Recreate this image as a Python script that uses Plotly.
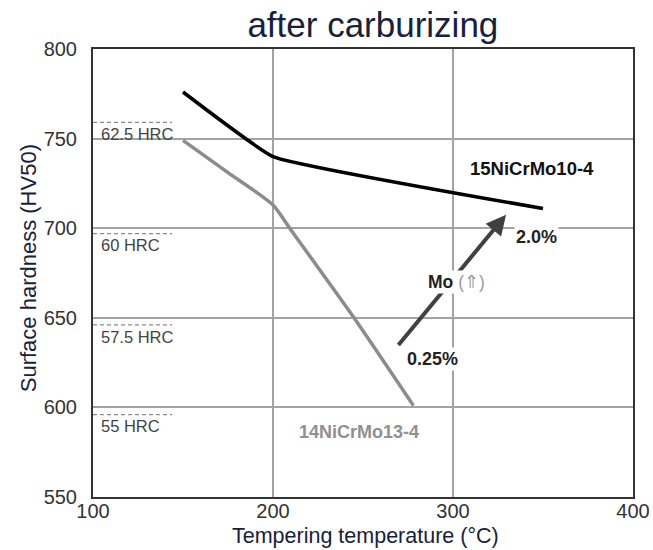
import plotly.graph_objects as go

# Surface hardness vs. tempering temperature after carburizing
temp_15 = [150, 200, 350]
hv_15 = [776, 740, 711]

temp_14 = [150, 175, 200, 210, 245, 278]
hv_14 = [749, 731, 713, 699, 650, 601]

# Rockwell reference levels (HRC) and equivalent HV50
hrc_labels = ["62.5 HRC", "60 HRC", "57.5 HRC", "55 HRC"]
hrc_hv = [759, 697, 646, 596]
hrc_x = [100, 144]

# Mo content arrow (tail -> head)
mo_tail = (269, 634)
mo_head = (329.5, 707.5)

x_ticks = [100, 200, 300, 400]
y_ticks = [550, 600, 650, 700, 750, 800]

FONT = "Liberation Sans, Arial, sans-serif"
NAVY = "#17223a"

fig = go.Figure()

for hv in hrc_hv:
    fig.add_trace(go.Scatter(
        x=hrc_x, y=[hv, hv], mode="lines",
        line=dict(color="#8a8a8a", width=1.2, dash="4px,3px"),
        hoverinfo="skip", showlegend=False, cliponaxis=False))

fig.add_trace(go.Scatter(
    x=temp_14, y=hv_14, mode="lines",
    line=dict(color="#8c8c8c", width=3.5, shape="spline", smoothing=0.6),
    showlegend=False))

fig.add_trace(go.Scatter(
    x=temp_15, y=hv_15, mode="lines",
    line=dict(color="#000000", width=3.5, shape="spline", smoothing=0.3),
    showlegend=False))

annotations = []
for lab, hv in zip(hrc_labels, hrc_hv):
    annotations.append(dict(
        x=103.5, y=hv - 6.5, text=lab, showarrow=False,
        xanchor="left", yanchor="middle",
        font=dict(family=FONT, size=16.5, color="#444444")))

annotations += [
    dict(x=mo_head[0], y=mo_head[1], ax=mo_tail[0], ay=mo_tail[1],
         axref="x", ayref="y", xref="x", yref="y", text="",
         showarrow=True, arrowhead=2, arrowsize=1.0, arrowwidth=4,
         arrowcolor="#404040"),
    dict(x=302, y=670, text="<b>Mo</b> <span style='color:#9a9a9a'>(⇑)</span>",
         showarrow=False, bgcolor="white", borderpad=1,
         font=dict(family=FONT, size=17.5, color="#222222")),
    dict(x=288.5, y=627, text="<b>0.25%</b>", showarrow=False,
         bgcolor="white", borderpad=1,
         font=dict(family=FONT, size=18, color="#222222")),
    dict(x=346.5, y=695, text="<b>2.0%</b>", showarrow=False,
         bgcolor="white", borderpad=1,
         font=dict(family=FONT, size=18, color="#222222")),
    dict(x=344, y=733.5, text="<b>15NiCrMo10-4</b>", showarrow=False,
         font=dict(family=FONT, size=18.5, color="#111111")),
    dict(x=248, y=586.5, text="<b>14NiCrMo13-4</b>", showarrow=False,
         font=dict(family=FONT, size=18, color="#909090")),
    # axis titles
    dict(xref="paper", yref="paper", x=0.504, y=-0.088,
         text="Tempering temperature (°C)", showarrow=False,
         xanchor="center", yanchor="middle",
         font=dict(family=FONT, size=21.5, color=NAVY)),
    dict(xref="paper", yref="paper", x=-0.12, y=0.511, textangle=-90,
         text="Surface hardness (HV50)", showarrow=False,
         xanchor="center", yanchor="middle",
         font=dict(family=FONT, size=22, color=NAVY)),
]

fig.update_layout(
    width=653, height=550,
    margin=dict(l=93, r=20, t=49, b=53, autoexpand=False),
    paper_bgcolor="white", plot_bgcolor="white",
    title=dict(text="after carburizing", x=0.571, xanchor="center",
               y=0.955, yanchor="middle",
               font=dict(family=FONT, size=35, color=NAVY)),
    annotations=annotations,
    xaxis=dict(
        range=[100, 400], tickvals=x_ticks, showgrid=True,
        gridcolor="#a3a3a3", gridwidth=1.5, zeroline=False,
        showline=True, linecolor="#333333", linewidth=2, mirror=True,
        ticks="", ticklabelstandoff=-5,
        tickfont=dict(family=FONT, size=20, color="#333333")),
    yaxis=dict(
        range=[550, 800], tickvals=y_ticks, showgrid=True,
        gridcolor="#a3a3a3", gridwidth=1.5, zeroline=False,
        showline=True, linecolor="#333333", linewidth=2, mirror=True,
        ticks="", ticklabelstandoff=10,
        tickfont=dict(family=FONT, size=20, color="#333333")),
)

fig.write_html("out.html")
